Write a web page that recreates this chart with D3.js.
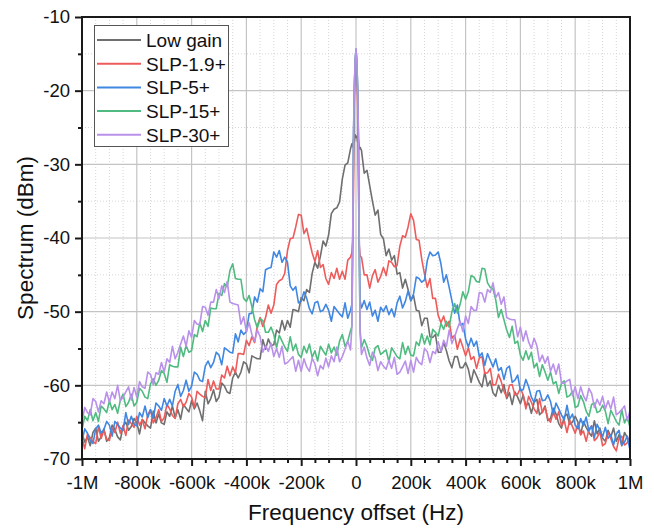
<!DOCTYPE html>
<html><head><meta charset="utf-8">
<script src="https://cdn.jsdelivr.net/npm/d3@7"></script>
<style>body{margin:0;background:#fff}svg{display:block}</style>
</head><body><svg id="c" width="654" height="529"></svg>
<script>
// Frequency offset, kHz
const freqK = [
-1000,-990,-980,-970,-960,-950,-940,-930,-920,-910,
-900,-890,-880,-870,-860,-850,-840,-830,-820,-810,
-800,-790,-780,-770,-760,-750,-740,-730,-720,-710,
-700,-690,-680,-670,-660,-650,-640,-630,-620,-610,
-600,-590,-580,-570,-560,-550,-540,-530,-520,-510,
-500,-490,-480,-470,-460,-450,-440,-430,-420,-410,
-400,-390,-380,-370,-360,-350,-340,-330,-320,-310,
-300,-290,-280,-270,-260,-250,-240,-230,-220,-210,
-200,-190,-180,-170,-160,-150,-140,-130,-120,-110,
-100,-90,-80,-70,-60,-50,-40,-30,-20,
-15,-12,-9,-6,-3,0,3,6,9,12,15,
20,30,40,50,60,70,80,90,100,
110,120,130,140,150,160,170,180,190,200,
210,220,230,240,250,260,270,280,290,300,
310,320,330,340,350,360,370,380,390,400,
410,420,430,440,450,460,470,480,490,500,
510,520,530,540,550,560,570,580,590,600,
610,620,630,640,650,660,670,680,690,700,
710,720,730,740,750,760,770,780,790,800,
810,820,830,840,850,860,870,880,890,900,
910,920,930,940,950,960,970,980,990,1000];

// Spectrum, dBm
const lowGain = [
-66.5,-67.7,-67.0,-68.2,-66.4,-65.8,-67.6,-67.0,-65.9,-67.6,
-67.1,-65.4,-66.0,-67.0,-67.4,-65.5,-65.0,-66.1,-65.6,-64.5,
-65.1,-66.6,-64.6,-65.1,-65.5,-65.8,-63.5,-65.1,-63.9,-65.1,
-65.3,-63.6,-64.2,-62.8,-64.4,-63.3,-64.6,-62.6,-63.1,-63.6,
-62.1,-63.2,-62.4,-63.5,-64.8,-60.8,-62.5,-61.8,-60.6,-62.2,
-61.6,-59.7,-60.1,-60.9,-61.1,-59.0,-58.2,-59.0,-58.2,-56.8,
-57.1,-58.3,-56.0,-56.2,-56.4,-56.4,-53.8,-55.1,-53.7,-54.6,
-54.5,-52.5,-52.9,-51.2,-52.5,-51.2,-52.1,-49.7,-49.8,-50.0,
-48.1,-48.5,-47.0,-47.4,-44.8,-43.3,-44.1,-42.5,-40.4,-41.1,
-39.6,-36.7,-36.1,-35.9,-35.1,-32.0,-30.1,-29.8,-27.9,
-27.2,-27.6,-26.6,-26.9,-26.0,-26.3,-26.2,-27.0,-26.7,-27.9,-27.7,
-28.1,-31.2,-30.8,-32.9,-35.0,-36.9,-36.2,-39.5,-40.1,
-42.4,-41.5,-43.0,-42.4,-44.9,-44.7,-46.8,-45.6,-47.0,-48.5,
-47.8,-49.8,-49.9,-51.9,-50.9,-50.9,-53.4,-53.5,-53.1,-55.5,
-55.5,-54.2,-55.3,-56.7,-57.6,-56.1,-56.1,-57.6,-57.6,-56.9,
-57.8,-59.6,-57.9,-58.7,-59.6,-60.2,-58.2,-60.1,-59.4,-61.0,
-61.5,-60.0,-61.0,-59.9,-61.8,-61.0,-62.6,-60.9,-61.6,-62.5,
-61.3,-62.8,-62.4,-63.8,-62.3,-61.9,-64.0,-63.6,-62.8,-64.8,
-64.5,-63.1,-63.9,-65.2,-65.8,-64.2,-63.9,-65.3,-65.0,-64.2,
-65.0,-66.7,-64.9,-65.7,-66.4,-66.9,-64.8,-66.6,-65.8,-67.2,
-67.6,-66.1,-67.0,-65.8,-67.6,-66.7,-68.2,-66.4,-67.1,-67.9];

const slp19 = [
-67.1,-68.6,-66.6,-67.1,-67.6,-67.9,-65.6,-67.2,-66.1,-67.3,
-67.5,-65.8,-66.4,-65.0,-66.5,-65.5,-66.8,-64.7,-65.2,-65.7,
-64.2,-65.4,-64.7,-65.9,-64.0,-63.3,-65.1,-64.4,-63.3,-64.9,
-64.4,-62.6,-63.2,-64.1,-64.5,-62.5,-61.9,-62.9,-62.3,-61.1,
-61.6,-63.0,-60.8,-61.2,-61.5,-61.7,-59.2,-60.7,-59.4,-60.5,
-60.5,-58.6,-59.0,-57.4,-58.7,-57.5,-58.3,-55.7,-55.7,-55.8,
-53.9,-54.6,-53.4,-54.2,-51.9,-50.8,-52.0,-50.8,-49.1,-50.2,
-49.1,-46.3,-45.8,-45.6,-44.8,-41.7,-40.1,-40.0,-38.5,-36.8,
-36.9,-39.4,-38.7,-40.4,-42.0,-43.2,-41.7,-44.0,-43.6,-45.5,
-46.3,-44.7,-45.5,-44.1,-45.6,-44.5,-45.6,-43.0,-42.6,
-42.0,-40.5,-33.0,-22.0,-17.0,-14.6,-17.2,-22.5,-33.5,-41.0,-42.5,
-42.6,-45.0,-45.0,-46.8,-45.1,-44.3,-46.0,-45.2,-44.0,
-45.1,-43.1,-43.3,-43.9,-43.7,-41.1,-39.7,-39.9,-38.5,-36.7,
-37.6,-40.2,-40.3,-42.9,-44.9,-46.7,-45.5,-48.2,-48.2,-50.5,
-51.5,-50.6,-52.0,-51.3,-53.6,-53.2,-55.1,-53.7,-54.8,-56.0,
-54.9,-56.5,-56.1,-57.7,-56.3,-56.1,-58.4,-58.3,-57.7,-60.0,
-59.9,-58.5,-59.5,-60.8,-61.6,-60.0,-59.9,-61.3,-61.2,-60.4,
-61.3,-63.2,-61.5,-62.3,-63.2,-63.8,-61.8,-63.7,-63.0,-64.5,
-65.0,-63.6,-64.6,-63.6,-65.5,-64.8,-66.4,-64.7,-65.6,-66.5,
-65.2,-66.7,-66.2,-67.6,-66.0,-65.5,-67.5,-67.1,-66.3,-68.2,
-67.9,-66.4,-67.2,-68.3,-68.9,-67.2,-66.9,-68.1,-67.8,-66.9];

const slp5 = [
-67.6,-65.9,-66.5,-67.5,-67.9,-65.9,-65.4,-66.5,-66.0,-64.9,
-65.4,-66.9,-64.9,-65.3,-65.8,-66.1,-63.7,-65.3,-64.2,-65.3,
-65.5,-63.7,-64.3,-62.8,-64.4,-63.3,-64.5,-62.4,-62.8,-63.4,
-61.8,-62.8,-61.9,-62.8,-60.8,-59.9,-61.5,-60.7,-59.3,-60.8,
-60.1,-58.2,-58.5,-59.3,-59.5,-57.4,-56.7,-57.6,-56.9,-55.5,
-55.9,-57.2,-54.9,-55.2,-55.5,-55.6,-53.0,-54.1,-52.5,-53.1,
-52.7,-50.3,-50.2,-48.0,-48.7,-46.9,-47.3,-44.3,-44.1,-44.0,
-41.9,-42.6,-41.7,-43.3,-42.6,-43.3,-46.5,-47.1,-46.6,-48.8,
-48.6,-47.3,-48.2,-49.6,-50.3,-48.8,-48.6,-50.0,-49.8,-49.0,
-49.8,-51.3,-49.3,-49.8,-50.3,-50.7,-48.8,-50.9,-49.8,
-49.0,-40.0,-26.0,-19.5,-16.0,-14.4,-16.2,-19.8,-26.5,-41.0,-48.5,
-49.5,-48.5,-49.7,-48.7,-50.6,-49.8,-51.3,-49.4,-50.0,
-49.2,-50.4,-49.6,-50.7,-48.8,-47.9,-49.5,-48.6,-47.2,-48.5,
-47.6,-45.3,-45.5,-46.0,-45.7,-43.1,-41.9,-42.4,-42.3,-41.9,
-43.5,-46.0,-45.0,-46.7,-48.5,-50.2,-49.1,-51.8,-51.6,-53.7,
-54.8,-53.6,-54.7,-54.0,-56.1,-55.6,-57.3,-55.7,-56.6,-57.5,
-56.4,-58.0,-57.6,-59.2,-57.7,-57.4,-59.6,-59.3,-58.6,-60.7,
-60.6,-59.2,-60.2,-61.6,-62.3,-60.8,-60.7,-62.1,-62.0,-61.3,
-62.2,-64.0,-62.4,-63.2,-64.0,-64.7,-62.7,-64.6,-63.9,-65.4,
-65.9,-64.5,-65.5,-64.3,-66.2,-65.5,-67.1,-65.3,-66.1,-67.0,
-65.7,-67.2,-66.7,-68.1,-66.6,-66.1,-68.1,-67.7,-66.9,-68.8];

const slp15 = [
-66.0,-64.2,-64.8,-63.3,-64.8,-63.7,-64.9,-62.8,-63.2,-63.7,
-62.1,-63.3,-62.6,-63.8,-62.0,-61.2,-62.9,-62.3,-61.2,-62.8,
-62.3,-60.4,-60.8,-61.6,-61.8,-59.8,-59.1,-60.0,-59.3,-58.0,
-58.4,-59.6,-57.2,-57.4,-57.5,-57.5,-54.8,-56.1,-54.6,-55.5,
-55.3,-53.1,-53.4,-51.5,-52.7,-51.2,-52.0,-49.5,-49.6,-49.6,
-47.5,-47.8,-46.2,-46.6,-44.4,-43.5,-45.5,-45.6,-45.6,-48.2,
-48.6,-47.8,-49.3,-51.1,-52.2,-51.0,-51.2,-52.8,-52.8,-52.1,
-53.1,-54.9,-53.2,-54.0,-54.8,-55.4,-53.4,-55.3,-54.4,-55.8,
-56.2,-54.7,-55.6,-54.4,-56.2,-55.3,-56.7,-54.7,-55.3,-55.9,
-54.4,-55.6,-54.8,-55.9,-54.0,-53.1,-54.7,-54.0,-52.6,
-52.0,-42.0,-27.0,-19.6,-16.0,-14.4,-16.1,-19.8,-27.5,-43.0,-52.5,
-54.9,-53.8,-54.7,-56.0,-56.6,-54.9,-54.6,-55.8,-55.5,
-55.2,-56.8,-54.9,-55.5,-56.1,-56.4,-54.2,-55.8,-54.7,-55.9,
-56.0,-54.1,-54.6,-53.0,-54.4,-53.3,-54.5,-52.4,-52.8,-53.3,
-51.6,-52.4,-51.3,-52.1,-50.0,-48.9,-50.2,-49.0,-47.3,-48.3,
-47.3,-45.1,-45.3,-45.9,-46.0,-44.1,-44.2,-46.1,-46.7,-46.9,
-48.4,-50.8,-49.7,-51.1,-52.5,-53.5,-52.0,-54.3,-54.0,-55.9,
-56.6,-55.3,-56.5,-55.5,-57.6,-57.0,-58.8,-57.2,-58.2,-59.3,
-58.2,-59.8,-59.5,-61.1,-59.7,-59.4,-61.6,-61.4,-60.8,-63.0,
-62.8,-61.4,-62.2,-63.5,-64.2,-62.6,-62.4,-63.7,-63.5,-62.7,
-63.5,-65.2,-63.4,-64.1,-64.9,-65.4,-63.3,-65.1,-64.3,-65.7];

const slp30 = [
-65.0,-63.0,-63.7,-64.0,-61.8,-62.2,-63.6,-62.1,-62.5,-60.9,
-62.3,-60.9,-61.8,-60.0,-62.1,-61.6,-60.9,-60.2,-62.0,-60.3,
-61.6,-59.5,-60.2,-60.4,-58.2,-58.5,-59.9,-58.3,-58.5,-56.9,
-58.2,-56.4,-56.9,-54.7,-56.4,-55.5,-54.4,-53.3,-54.7,-52.6,
-53.5,-51.2,-51.7,-51.7,-49.3,-49.4,-50.5,-48.7,-48.7,-47.0,
-48.2,-46.5,-47.4,-45.9,-48.7,-48.9,-49.0,-49.1,-51.7,-50.7,
-52.7,-51.5,-53.1,-54.0,-52.5,-53.4,-55.5,-54.6,-55.4,-54.3,
-56.1,-55.0,-56.2,-54.7,-57.1,-56.9,-56.5,-56.1,-58.1,-56.6,
-58.1,-56.4,-57.5,-58.1,-56.3,-57.1,-58.7,-57.3,-57.8,-56.3,
-57.5,-56.0,-56.8,-54.8,-56.8,-56.1,-55.1,-54.0,-55.2,
-52.0,-40.0,-25.5,-19.2,-15.8,-14.3,-15.9,-19.5,-26.0,-41.0,-53.0,
-55.8,-54.8,-56.3,-57.3,-55.5,-56.2,-58.0,-56.8,-57.4,
-57.8,-56.6,-57.7,-56.2,-58.5,-58.2,-57.5,-56.7,-58.4,-56.6,
-58.2,-56.2,-56.9,-57.2,-55.0,-55.4,-56.9,-55.4,-55.7,-54.1,
-55.4,-53.9,-54.7,-52.5,-54.3,-53.4,-52.3,-51.3,-52.7,-50.6,
-51.6,-49.3,-49.8,-49.8,-47.4,-47.5,-48.7,-47.0,-47.4,-46.1,
-48.1,-47.4,-49.0,-48.0,-50.8,-51.0,-51.1,-51.1,-53.4,-52.1,
-54.0,-52.6,-54.1,-55.0,-53.6,-54.6,-56.8,-55.9,-57.0,-56.1,
-58.1,-57.1,-58.5,-57.1,-59.7,-59.7,-59.4,-59.2,-61.4,-60.2,
-61.8,-60.2,-61.4,-62.1,-60.4,-61.1,-63.0,-61.9,-62.7,-61.5,
-63.2,-62.1,-63.2,-61.6,-64.0,-63.7,-63.3,-62.8,-64.8,-63.4];

const seriesNames = ["Low gain", "SLP-1.9+", "SLP-5+", "SLP-15+", "SLP-30+"];
const seriesValues = [lowGain, slp19, slp5, slp15, slp30];
const seriesColors = ["#6f6f6f", "#ee5b5b", "#3f87e2", "#4fbb80", "#b990ea"];

const xTickValues = [-1000, -800, -600, -400, -200, 0, 200, 400, 600, 800, 1000];
const xTickLabels = ["-1M", "-800k", "-600k", "-400k", "-200k", "0", "200k", "400k", "600k", "800k", "1M"];
const yTickValues = [-70, -60, -50, -40, -30, -20, -10];
const yTickLabels = ["-70", "-60", "-50", "-40", "-30", "-20", "-10"];
const xMinorValues = [-950,-900,-850,-750,-700,-650,-550,-500,-450,-350,-300,-250,-150,-100,-50,50,100,150,250,300,350,450,500,550,650,700,750,850,900,950];
const yMinorValues = [-65, -55, -45, -35, -25, -15];

const FONT = "'Liberation Sans', Arial, Helvetica, sans-serif";
const L = 82, R = 630, T = 17, B = 459;
const svg = d3.select("#c");
svg.append("rect").attr("width", 654).attr("height", 529).attr("fill", "#fff");

const x = d3.scaleLinear().domain([-1000, 1000]).range([L, R]);
const y = d3.scaleLinear().domain([-70, -10]).range([B, T]);

// grid
const g = svg.append("g");
g.selectAll(".vmin").data(xMinorValues).join("line")
  .attr("x1", d => x(d)).attr("x2", d => x(d)).attr("y1", T).attr("y2", B)
  .attr("stroke", "#d6d6d6").attr("stroke-width", 1).attr("stroke-dasharray", "1,2");
g.selectAll(".hmin").data(yMinorValues).join("line")
  .attr("y1", d => y(d)).attr("y2", d => y(d)).attr("x1", L).attr("x2", R)
  .attr("stroke", "#d6d6d6").attr("stroke-width", 1).attr("stroke-dasharray", "1,2");
g.selectAll(".vmaj").data(xTickValues.slice(1, -1)).join("line")
  .attr("x1", d => x(d)).attr("x2", d => x(d)).attr("y1", T).attr("y2", B)
  .attr("stroke", "#c4c4c4").attr("stroke-width", 1.2);
g.selectAll(".hmaj").data(yTickValues.slice(1, -1)).join("line")
  .attr("y1", d => y(d)).attr("y2", d => y(d)).attr("x1", L).attr("x2", R)
  .attr("stroke", "#c4c4c4").attr("stroke-width", 1.2);

// series
svg.append("clipPath").attr("id", "clip").append("rect")
  .attr("x", L).attr("y", T).attr("width", R - L).attr("height", B - T);
const line = d3.line().x(d => x(d[0])).y(d => y(d[1]));
const sg = svg.append("g").attr("clip-path", "url(#clip)");
seriesValues.forEach((vals, i) => {
  sg.append("path")
    .datum(freqK.map((f, j) => [f, vals[j]]))
    .attr("d", line).attr("fill", "none")
    .attr("stroke", seriesColors[i]).attr("stroke-width", 1.6)
    .attr("stroke-linejoin", "round");
});

// frame
svg.append("rect").attr("x", L).attr("y", T).attr("width", R - L).attr("height", B - T)
  .attr("fill", "none").attr("stroke", "#1a1a1a").attr("stroke-width", 2);

// axes
const xAxis = svg.append("g").attr("transform", `translate(0,${B})`)
  .call(d3.axisBottom(x).tickValues(xTickValues).tickFormat((d, i) => xTickLabels[i]).tickSize(7).tickPadding(10));
const xMinor = svg.append("g").attr("transform", `translate(0,${B})`)
  .call(d3.axisBottom(x).tickValues(xMinorValues).tickFormat("").tickSize(4));
const yAxis = svg.append("g").attr("transform", `translate(${L},0)`)
  .call(d3.axisLeft(y).tickValues(yTickValues).tickFormat((d, i) => yTickLabels[i]).tickSize(7).tickPadding(5));
const yMinor = svg.append("g").attr("transform", `translate(${L},0)`)
  .call(d3.axisLeft(y).tickValues(yMinorValues).tickFormat("").tickSize(4));
[xAxis, xMinor, yAxis, yMinor].forEach(a => {
  a.select(".domain").remove();
  a.selectAll(".tick line").attr("stroke", "#1a1a1a").attr("stroke-width", 2);
  a.selectAll(".tick text").attr("fill", "#111").style("font-family", FONT).style("font-size", "18.5px");
});

// titles
svg.append("text").attr("x", (L + R) / 2).attr("y", 520).attr("text-anchor", "middle")
  .style("font-family", FONT).style("font-size", "22.5px").attr("fill", "#111")
  .text("Frequency offset (Hz)");
svg.append("text").attr("transform", `translate(33,${(T + B) / 2}) rotate(-90)`).attr("text-anchor", "middle")
  .style("font-family", FONT).style("font-size", "22.5px").attr("fill", "#111")
  .text("Spectrum (dBm)");

// legend
const lg = svg.append("g");
lg.append("rect").attr("x", 94.5).attr("y", 25.5).attr("width", 134).attr("height", 121)
  .attr("fill", "#fff").attr("stroke", "#555").attr("stroke-width", 1);
seriesNames.forEach((name, i) => {
  const yy = 40 + i * 23.7;
  lg.append("line").attr("x1", 97).attr("x2", 141).attr("y1", yy).attr("y2", yy)
    .attr("stroke", seriesColors[i]).attr("stroke-width", 2);
  lg.append("text").attr("x", 146).attr("y", yy + 6.8)
    .style("font-family", FONT).style("font-size", "19px").attr("fill", "#111").text(name);
});
</script></body></html>
